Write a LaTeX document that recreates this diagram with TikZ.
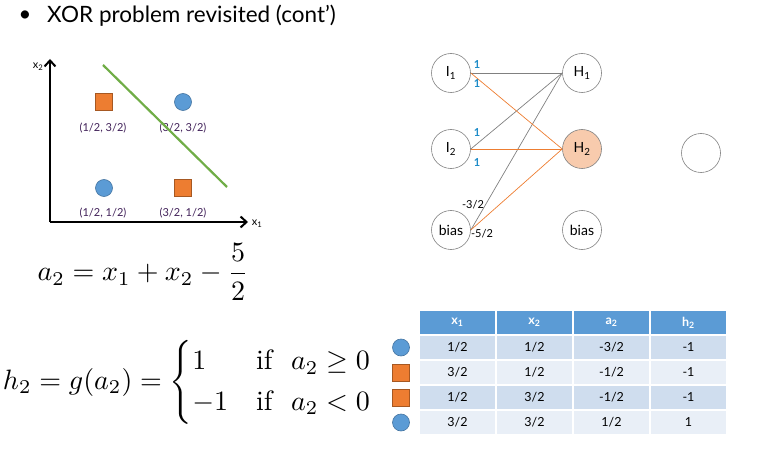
\documentclass[tikz,border=0pt]{standalone}
\usepackage{amsmath}
\usepackage{amssymb}
\usepackage{fontspec}
\newfontfamily\gill{Lato}
\usetikzlibrary{arrows.meta,positioning}
\definecolor{xblue}{RGB}{91,155,213}
\definecolor{xorange}{RGB}{237,125,49}
\definecolor{xgreen}{RGB}{112,173,71}
\definecolor{xpeach}{RGB}{248,203,173}
\definecolor{xlabel}{RGB}{64,32,88}
\definecolor{xteal}{RGB}{30,140,200}
\definecolor{rowdark}{RGB}{207,221,238}
\definecolor{rowlight}{RGB}{233,239,247}
\tikzset{
  px/.style={x=1pt, y=-1pt},
  p circ/.style={circle, fill=xblue, draw=xblue!75!black, minimum size=17pt, inner sep=0pt, line width=0.6pt},
  p sq/.style={rectangle, fill=xorange, draw=xorange!70!black, minimum size=17pt, inner sep=0pt, line width=0.6pt},
  p lab/.style={font=\gill\fontsize{11}{12}\selectfont, text=xlabel},
  ax lab/.style={font=\gill\fontsize{11}{12}\selectfont},
  ax arr/.style={-{Straight Barb[length=6pt,width=11pt,line width=2pt]}, line width=2.2pt},
  n unit/.style={circle, draw=gray, minimum size=39pt, inner sep=0pt, line width=0.6pt, font=\gill\fontsize{14}{16}\selectfont},
  n w/.style={font=\gill\fontsize{11}{12}\selectfont},
  n one/.style={n w, text=xteal, font=\gill\bfseries\fontsize{11}{12}\selectfont},
  e gray/.style={draw=gray, line width=0.7pt},
  e orange/.style={draw=xorange, line width=0.7pt},
  t cell/.style={minimum width=75pt, minimum height=23pt, inner sep=0pt, font=\gill\fontsize{12.5}{14}\selectfont},
  t head/.style={t cell, fill=xblue, text=white, font=\gill\bfseries\fontsize{12.5}{14}\selectfont},
  eq/.style={scale=2.8, transform shape},
}
\begin{document}
\begin{tikzpicture}[px]
\useasboundingbox (0,0) rectangle (781,449);
\node[font=\gill\fontsize{22}{26}\selectfont] (bul) at (25,16) {•};
\node[anchor=base west, font=\gill\fontsize{22.5}{26}\selectfont, inner sep=0pt] (title) at (47,23) {XOR problem revisited (cont’)};
\coordinate (o) at (50,222);
\coordinate (ytop) at (50,59);
\coordinate (xend) at (248,222);
\draw[ax arr] (o) -- (ytop);
\draw[ax arr] (o) -- (xend);
\node[ax lab] (x2) at (38,67) {x\textsubscript{2}};
\node[ax lab] (x1) at (257,224) {x\textsubscript{1}};
\node[p sq] (pa) at (104,102) {};
\node[p circ] (pb) at (183,102) {};
\node[p circ] (pc) at (104,188) {};
\node[p sq] (pd) at (183,188) {};
\node[p lab] (la) at (103,128) {(1/2, 3/2)};
\node[p lab] (lb) at (183,128) {(3/2, 3/2)};
\node[p lab] (lc) at (103,213) {(1/2, 1/2)};
\node[p lab] (ld) at (183,213) {(3/2, 1/2)};
\coordinate (g1) at (103,65);
\coordinate (g2) at (227,187);
\draw[xgreen, line width=2.2pt] (g1) -- (g2);
\node[n unit] (i1) at (451,73) {I\textsubscript{1}};
\node[n unit] (i2) at (451,149) {I\textsubscript{2}};
\node[n unit] (b1) at (451,230) {bias};
\node[n unit] (h1) at (582,73) {H\textsubscript{1}};
\node[n unit, fill=xpeach] (h2) at (582,149) {H\textsubscript{2}};
\node[n unit] (b2) at (582,230) {bias};
\node[n unit] (o1) at (701,153) {};
\draw[e gray] (i1.east) -- (h1.west);
\draw[e gray] (i2.east) -- (h1.west);
\draw[e gray] (b1.east) -- (h1.west);
\draw[e orange] (i1.east) -- (h2.west);
\draw[e orange] (i2.east) -- (h2.west);
\draw[e orange] (b1.east) -- (h2.west);
\node[n one] (w11) at (477,65) {1};
\node[n one] (w12) at (477,84) {1};
\node[n one] (w21) at (477,133) {1};
\node[n one] (w22) at (477,163) {1};
\node[n w] (wb1) at (473,205) {-3/2};
\node[n w] (wb2) at (482,234) {-5/2};
\node[eq] (eqa) at (143,272) {$\displaystyle a_2 = x_1 + x_2 - \frac{5}{2}$};
\node[eq] (eqh) at (188,382) {$h_2 = g(a_2) = \begin{cases} 1 & \text{if}\ \ a_2 \geq 0\\ -1 & \text{if}\ \ a_2 < 0\end{cases}$};
\foreach \t [count=\j] in {x\textsubscript{1},x\textsubscript{2},a\textsubscript{2},h\textsubscript{2}}
  \node[t head] (th\j) at (380.5+77*\j,322.5) {\t};
\foreach \a/\b/\c/\d/\m/\f [count=\i] in {1/1/-3/-1/p circ/rowdark,3/1/-1/-1/p sq/rowlight,1/3/-1/-1/p sq/rowdark,3/3/1/1/p circ/rowlight}
  {
  \node[\m] (mk\i) at (401,322.5+25*\i) {};
  \node[t cell, fill=\f] (c\i-1) at (457.5,322.5+25*\i) {\a/2};
  \node[t cell, fill=\f] (c\i-2) at (534.5,322.5+25*\i) {\b/2};
  \node[t cell, fill=\f] (c\i-3) at (611.5,322.5+25*\i) {\c/2};
  \node[t cell, fill=\f] (c\i-4) at (688.5,322.5+25*\i) {\d};
  }
\end{tikzpicture}
\end{document}
